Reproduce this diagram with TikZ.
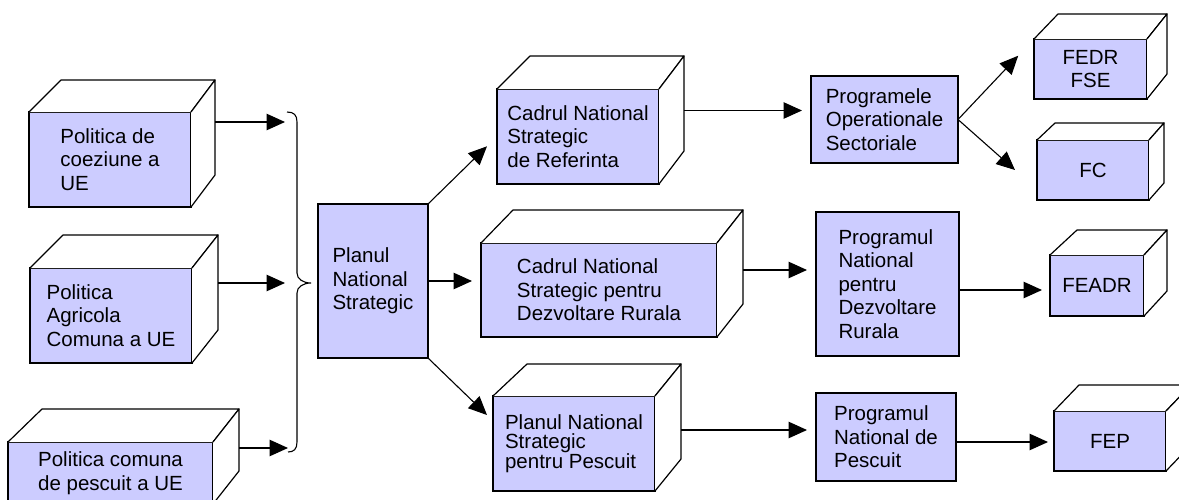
\documentclass[tikz,border=0pt]{standalone}
\usepackage{fontspec}
\setmainfont{Liberation Sans}
\usetikzlibrary{arrows.meta,calc}
\definecolor{lav}{RGB}{204,204,255}
\newcommand\cubeside[4]{%
  \draw[edge] (#1.north west) -- ++(#2,-#4) -- ($(#1.north east)+(#3,-#4)$) -- (#1.north east);
  \draw[edge] (#1.north east) -- ++(#3,-#4) -- ($(#1.south east)+(#3,-#4)$) -- (#1.south east);
  \coordinate (#1-bk) at ($(#1.east)+(#3,-#4)$);
}
\tikzset{
  face/.style={draw, line width=1.5pt, fill=lav, inner sep=0pt, outer sep=0pt, align=left,
    font=\fontsize{20.5}{23.5}\selectfont},
  edge/.style={draw, fill=white, line width=1.2pt, line join=round},
  arr/.style={line width=1.1pt, -{Triangle[length=18.5pt,width=16.5pt]}},
}
\begin{document}
\begin{tikzpicture}[x=1pt,y=-1pt]
\clip (0,0) rectangle (1179,499);
\fill[white] (0,0) rectangle (1179,499);
% left column
\node[face, minimum width=162pt, minimum height=95pt] (pol1) at (110,159.5) {Politica de\\coeziune a\\UE};
\cubeside{pol1}{32}{24}{32}
\node[face, minimum width=162pt, minimum height=95pt] (pol2) at (111,315.5) {Politica\\Agricola\\Comuna a UE};
\cubeside{pol2}{33}{26}{33}
\node[face, minimum width=205pt, minimum height=62pt] (pol3) at (110.5,473) {Politica comuna\\de pescuit a UE};
\cubeside{pol3}{34}{26}{33}
% brace
\draw[line width=1.1pt] (287,112) .. controls (294,112) and (297,115) .. (297,122) -- (297,273)
  .. controls (297,279) and (303,283) .. (311,283)
  .. controls (303,283) and (297,287) .. (297,293) -- (297,442)
  .. controls (297,449) and (294,452) .. (288,452);
\coordinate (t1) at (285,122);
\coordinate (t2) at (285,283);
\coordinate (t3) at (288,448);
\draw[arr] (pol1-bk |- t1) -- (t1);
\draw[arr] (pol2-bk |- t2) -- (t2);
\draw[arr] (pol3-bk |- t3) -- (t3);
% centre
\node[face, minimum width=110pt, minimum height=154pt] (pns) at (373,281) {Planul\\National\\Strategic};
\node[face, minimum width=162pt, minimum height=95pt] (cnsr) at (578,136.5) {Cadrul National\\Strategic\\de Referinta};
\cubeside{cnsr}{33}{25}{33}
\node[face, minimum width=236pt, minimum height=94pt] (cnsdr) at (599,290) {Cadrul National\\Strategic pentru\\Dezvoltare Rurala};
\cubeside{cnsdr}{32}{26}{33}
\node[face, minimum width=162pt, minimum height=95pt, font=\fontsize{20.5}{18.5}\selectfont] (pnsp) at (574,443.5) {Planul National\\Strategic\\pentru Pescuit};
\cubeside{pnsp}{34}{26}{32}
\draw[arr] (pns.north east) -- ($(cnsr.west)!14pt!(pns.north east)$);
\draw[arr] (pns.east) -- ($(pns.east -| cnsdr.west)+(-9,0)$);
\draw[arr] (pns.south east) -- ($(pnsp.north west)+(-6,19)$);
% programmes
\node[face, minimum width=147pt, minimum height=87pt] (pos) at (884.5,119.5) {Programele\\Operationale\\Sectoriale};
\node[face, minimum width=143pt, minimum height=144pt] (pndr) at (887.5,284) {Programul\\National\\pentru\\Dezvoltare\\Rurala};
\node[face, minimum width=140pt, minimum height=88pt] (pnp) at (886,437) {Programul\\National de\\Pescuit};
\coordinate (ta) at ($(pos.west)+(-9,-9)$);
\coordinate (tb) at ($(pndr.west)+(-9,-14)$);
\coordinate (tc) at ($(pnp.west)+(-9,-7)$);
\draw[arr] (cnsr-bk |- ta) -- (ta);
\draw[arr] (cnsdr-bk |- tb) -- (tb);
\draw[arr] (pnsp-bk |- tc) -- (tc);
% funds
\node[face, align=center, minimum width=113pt, minimum height=60pt] (fedr) at (1090.5,69) {FEDR\\FSE};
\cubeside{fedr}{24}{20}{25}
\node[face, align=center, minimum width=112pt, minimum height=60pt] (fc) at (1093,170) {FC};
\cubeside{fc}{18}{15}{17}
\node[face, align=center, minimum width=94pt, minimum height=61pt] (feadr) at (1097,285.5) {FEADR};
\cubeside{feadr}{27}{23}{25}
\node[face, align=center, minimum width=112pt, minimum height=60pt] (fep) at (1110,441) {FEP};
\cubeside{fep}{25}{25}{26}
\coordinate (td) at ($(feadr.west)+(-8,4.5)$);
\coordinate (te) at ($(fep.west)+(-6,1)$);
\draw[arr] (pos.east) -- ($(fedr.north west)!23pt!(pos.east)$);
\draw[arr] (pos.east) -- ($(fc.west)+(-22,0)$);
\draw[arr] (pndr.east |- td) -- (td);
\draw[arr] (pnp.east |- te) -- (te);
\end{tikzpicture}
\end{document}
